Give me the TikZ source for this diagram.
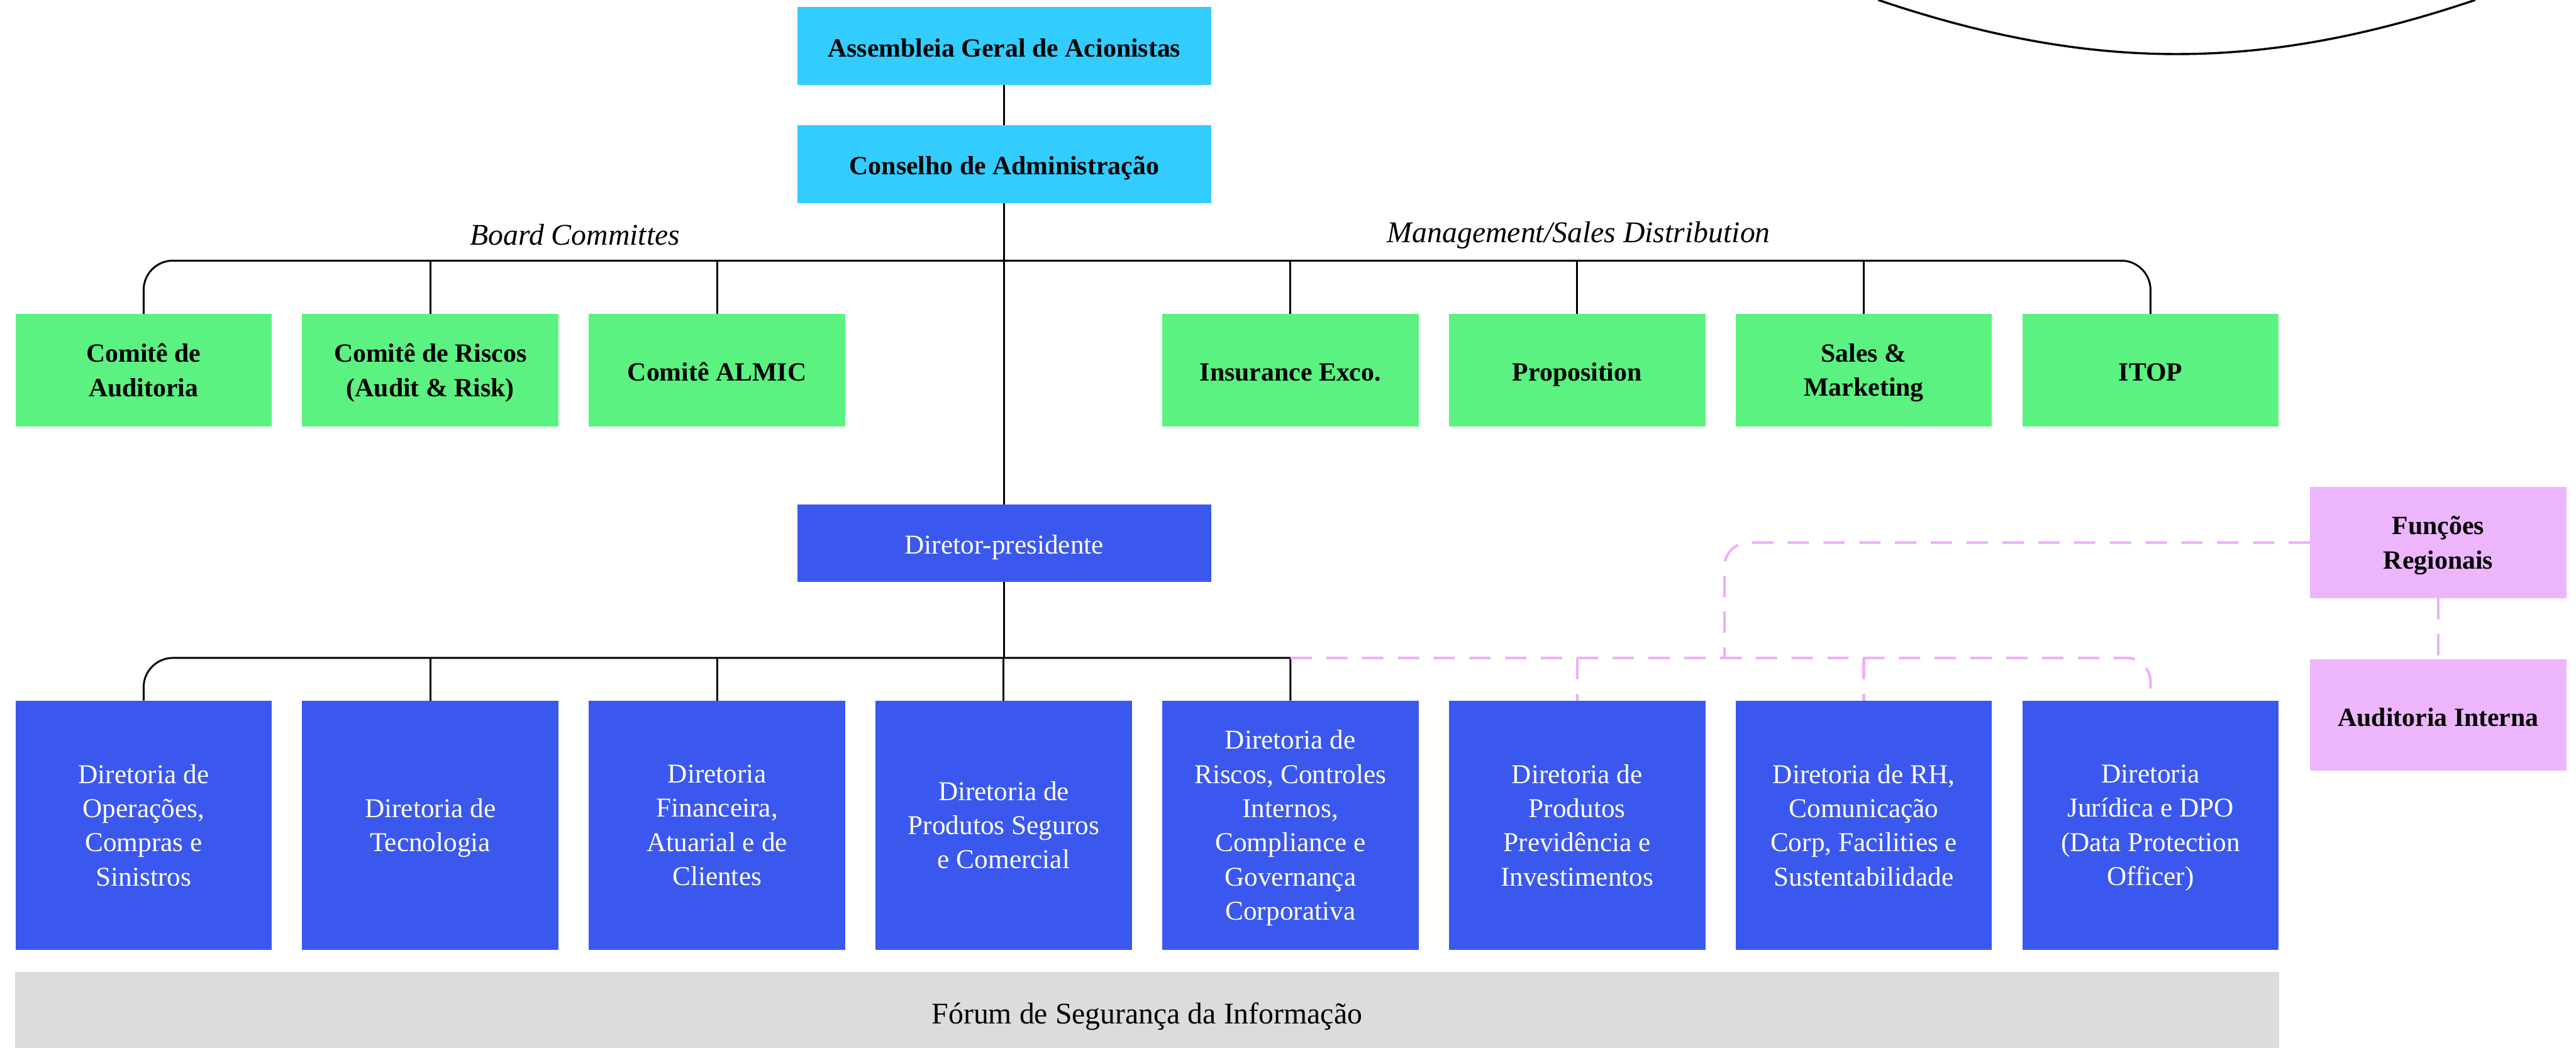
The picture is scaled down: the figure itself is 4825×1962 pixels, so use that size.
\documentclass[tikz,border=0pt]{standalone}
\usepackage{fontspec}
\setmainfont{Liberation Serif}
\definecolor{cyanbox}{HTML}{33CCFF}
\definecolor{greenbox}{HTML}{5BF281}
\definecolor{bluebox}{HTML}{3B58EE}
\definecolor{pinkbox}{HTML}{EDB6FC}
\definecolor{graybox}{HTML}{DCDCDB}
\definecolor{pinkline}{HTML}{EDB0FA}
\begin{document}
\begin{tikzpicture}[x=0.01cm,y=-0.01cm,inner sep=0pt,outer sep=0pt,
boxtext/.style={align=center,execute at begin node={\rule{0pt}{15.6pt}},execute at end node={\rule[-4pt]{0pt}{4pt}}},
multi/.style={text depth=-9.6pt},
topbox/.style={boxtext,fill=cyanbox,minimum width=7.74cm,minimum height=1.46cm,font=\fontsize{14}{18.2}\selectfont\bfseries},
combox/.style={boxtext,fill=greenbox,minimum width=4.8cm,minimum height=2.1cm,font=\fontsize{14}{18.2}\selectfont\bfseries},
dirbox/.style={boxtext,multi,fill=bluebox,text=white,minimum width=4.8cm,minimum height=4.66cm,font=\fontsize{14.5}{18.2}\selectfont},
regbox/.style={boxtext,fill=pinkbox,minimum width=4.8cm,minimum height=2.09cm,font=\fontsize{14}{18.2}\selectfont\bfseries},
grouplabel/.style={font=\fontsize{16}{18}\selectfont\itshape},
tree/.style={draw=black,line width=0.035cm,rounded corners=0.55cm},
regline/.style={draw=pinkline,line width=0.05cm,dash pattern=on 0.4cm off 0.27cm,rounded corners=0.45cm}]
\useasboundingbox (0,0) rectangle (4825,1962);
% top of the chart
\draw (1881,86) node[topbox] (agm) {Assembleia Geral de Acionistas};
\draw (1881,307) node[topbox] (board) {Conselho de Administração};
\draw (1881,1017) node[topbox,fill=bluebox,text=white,font=\fontsize{14.5}{18.2}\selectfont,minimum height=1.44cm] (ceo) {Diretor-presidente};
\draw (1077,440) node[grouplabel] (lblboard) {Board Committes};
\draw (2957,440) node[grouplabel] (lblmgmt) {Management/Sales Distribution};
% committees
\draw (269,693) node[combox,multi] (audit) {Comitê de\\Auditoria};
\draw (806,693) node[combox,multi] (risk) {Comitê de Riscos\\(Audit \& Risk)};
\draw (1343,693) node[combox] (almic) {Comitê ALMIC};
\draw (2417,693) node[combox] (exco) {Insurance Exco.};
\draw (2954,693) node[combox] (prop) {Proposition};
\draw (3491,693) node[combox,multi] (sales) {Sales \&\\Marketing};
\draw (4028,693) node[combox] (itop) {ITOP};
% directorates
\draw (269,1545) node[dirbox] (ops) {Diretoria de\\Operações,\\Compras e\\Sinistros};
\draw (806,1545) node[dirbox] (tec) {Diretoria de\\Tecnologia};
\draw (1343,1545) node[dirbox] (fin) {Diretoria\\Financeira,\\Atuarial e de\\Clientes};
\draw (1880,1545) node[dirbox] (seg) {Diretoria de\\Produtos Seguros\\e Comercial};
\draw (2417,1545) node[dirbox] (ctrl) {Diretoria de\\Riscos, Controles\\Internos,\\Compliance e\\Governança\\Corporativa};
\draw (2954,1545) node[dirbox] (prev) {Diretoria de\\Produtos\\Previdência e\\Investimentos};
\draw (3491,1545) node[dirbox] (rh) {Diretoria de RH,\\Comunicação\\Corp, Facilities e\\Sustentabilidade};
\draw (4028,1545) node[dirbox] (jur) {Diretoria\\Jurídica e DPO\\(Data Protection\\Officer)};
\draw (2148.5,1891) node[boxtext,execute at begin node={\rule{0pt}{18.6pt}},fill=graybox,minimum width=42.39cm,minimum height=1.42cm,font=\fontsize{16}{18}\selectfont] (forum) {Fórum de Segurança da Informação};
% regional functions
\draw (4567,1016) node[regbox,multi] (reg) {Funções\\Regionais};
\draw (4567,1339) node[regbox] (audint) {Auditoria Interna};
\coordinate (bus1) at (1881,488);
\coordinate (bus2) at (1881,1232);
\coordinate (tap) at (3230,1232);
% connectors
\draw[tree] (agm) -- (board);
\draw[tree] (board) -- (ceo);
\draw[tree] (ceo) -- (bus2);
\draw[tree] (audit.north) |- (bus1) -| (itop.north);
\foreach \n in {risk,almic,exco,prop,sales}
  \draw[tree] (\n.north) -- (\n.north |- bus1);
\draw[tree] (ops.north) |- (bus2) [sharp corners] -| (ctrl.north);
\foreach \n in {tec,fin,seg}
  \draw[tree] (\n.north) -- (\n.north |- bus2);
\draw[regline] (ctrl.north |- bus2) -| (jur.north);
\foreach \n in {prev,rh}
  \draw[regline] (\n.north |- bus2) -- (\n.north);
\draw[regline] (reg.west) -| (tap);
\draw[regline] (reg) -- (audint);
% arc at the top
\draw[line width=0.04cm] (3518,0) .. controls (3918,135) and (4236,135) .. (4636,0);
\end{tikzpicture}
\end{document}
